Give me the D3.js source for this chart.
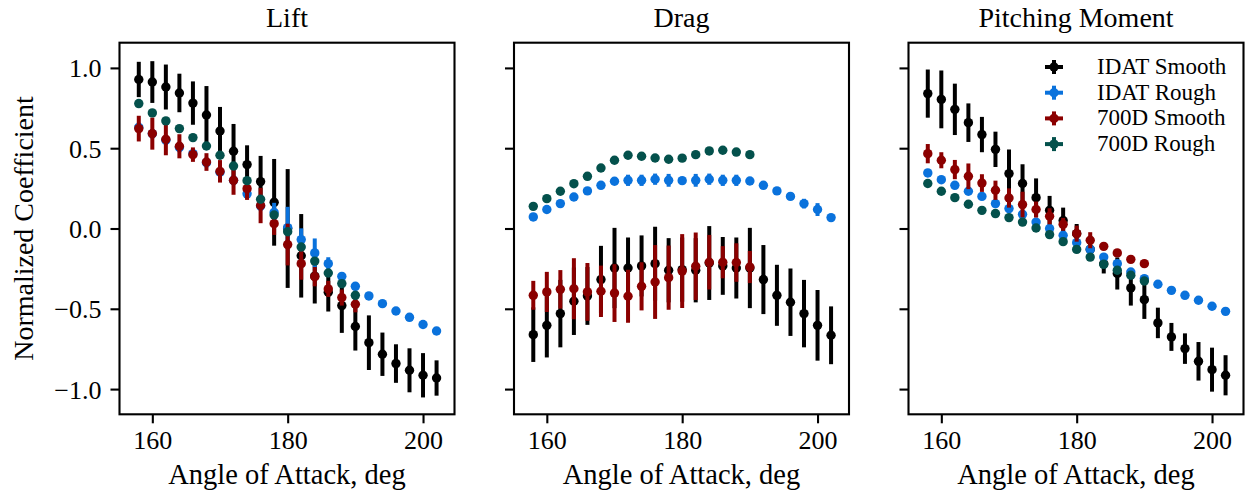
<!DOCTYPE html>
<html><head><meta charset="utf-8">
<script src="https://cdn.jsdelivr.net/npm/d3@7"></script>
<style>
body{margin:0;background:#fff}
text{font-family:"Liberation Serif","Times New Roman",serif;fill:#000}
</style>
</head><body>
<svg id="c" width="1253" height="494"></svg>
<script>
// ---------------- data ----------------
const panelTitles = ["Lift", "Drag", "Pitching Moment"];
const seriesNames = ["IDAT Smooth", "IDAT Rough", "700D Smooth", "700D Rough"];
const seriesColors = ["#000000", "#0a72dc", "#8b0000", "#04514c"];
const xTicks = [160, 180, 200];
const yTicks = [-1.0, -0.5, 0.0, 0.5, 1.0];
const yTickLabels = ["\u22121.0", "\u22120.5", "0.0", "0.5", "1.0"];
const xLabel = "Angle of Attack, deg";
const yLabel = "Normalized Coefficient";

const anglesIDAT = [158,160,162,164,166,168,170,172,174,176,178,180,182,184,186,188,190,192,194,196,198,200,202];
const angles700D = [158,160,162,164,166,168,170,172,174,176,178,180,182,184,186,188,190];

// Lift
const liftIdatSmooth = [0.928,0.912,0.881,0.844,0.781,0.707,0.607,0.481,0.398,0.292,0.163,0.0,-0.17,-0.297,-0.397,-0.48,-0.61,-0.711,-0.783,-0.841,-0.883,-0.914,-0.931];
const liftIdatSmoothErr = [0.11,0.13,0.14,0.12,0.135,0.18,0.15,0.17,0.12,0.16,0.27,0.37,0.26,0.17,0.12,0.17,0.15,0.17,0.135,0.12,0.137,0.138,0.11];
const liftIdatRough = [0.63,0.59,0.55,0.505,0.466,0.41,0.35,0.30,0.216,0.14,0.10,0.005,-0.069,-0.152,-0.219,-0.298,-0.36,-0.42,-0.468,-0.514,-0.553,-0.598,-0.638];
const liftIdatRoughErr = [0.03,0.03,0.03,0.03,0.03,0.03,0.03,0.03,0.03,0.03,0.06,0.13,0.07,0.09,0.04,0.02,0.015,0.015,0.015,0.015,0.015,0.015,0.015];
const lift700dSmooth = [0.622,0.591,0.556,0.512,0.46,0.414,0.356,0.3,0.248,0.143,0.03,-0.1,-0.219,-0.3,-0.376,-0.43,-0.472];
const lift700dSmoothErr = [0.08,0.1,0.1,0.075,0.045,0.055,0.07,0.09,0.07,0.11,0.07,0.13,0.1,0.06,0.05,0.05,0.05];
const lift700dRough = [0.778,0.72,0.67,0.622,0.566,0.514,0.456,0.389,0.298,0.182,0.084,-0.02,-0.115,-0.203,-0.277,-0.343,-0.416];
const lift700dRoughErr = [0.01,0.01,0.01,0.01,0.01,0.01,0.01,0.01,0.01,0.01,0.01,0.01,0.01,0.01,0.01,0.01,0.01];

// Drag
const dragIdatSmooth = [-0.661,-0.603,-0.53,-0.453,-0.42,-0.318,-0.246,-0.246,-0.233,-0.219,-0.26,-0.256,-0.26,-0.215,-0.233,-0.246,-0.246,-0.318,-0.416,-0.459,-0.53,-0.603,-0.665];
const dragIdatSmoothErr = [0.17,0.2,0.21,0.21,0.18,0.21,0.25,0.19,0.19,0.23,0.2,0.2,0.2,0.23,0.18,0.19,0.25,0.215,0.19,0.21,0.21,0.22,0.18];
const dragIdatRough = [0.072,0.118,0.155,0.196,0.234,0.269,0.294,0.3,0.3,0.307,0.3,0.298,0.3,0.307,0.3,0.3,0.296,0.269,0.234,0.2,0.155,0.118,0.068];
const dragIdatRoughErr = [0.015,0.02,0.015,0.015,0.015,0.015,0.02,0.035,0.035,0.035,0.04,0.02,0.04,0.035,0.035,0.035,0.02,0.015,0.015,0.015,0.03,0.04,0.015];
const drag700dSmooth = [-0.416,-0.395,-0.379,-0.375,-0.395,-0.391,-0.402,-0.422,-0.36,-0.333,-0.306,-0.265,-0.235,-0.21,-0.21,-0.212,-0.24];
const drag700dSmoothErr = [0.09,0.125,0.12,0.19,0.18,0.16,0.18,0.165,0.15,0.23,0.2,0.23,0.21,0.17,0.1,0.12,0.1];
const drag700dRough = [0.138,0.186,0.232,0.279,0.325,0.377,0.425,0.456,0.45,0.439,0.431,0.438,0.46,0.483,0.487,0.476,0.46];
const drag700dRoughErr = [0.01,0.01,0.01,0.01,0.01,0.01,0.01,0.01,0.01,0.01,0.01,0.01,0.01,0.01,0.01,0.01,0.01];

// Pitching moment
const pitchIdatSmooth = [0.84,0.804,0.742,0.659,0.585,0.493,0.342,0.28,0.192,0.113,0.05,-0.032,-0.13,-0.22,-0.28,-0.37,-0.443,-0.588,-0.675,-0.748,-0.827,-0.879,-0.914];
const pitchIdatSmoothErr = [0.15,0.18,0.16,0.12,0.11,0.11,0.15,0.12,0.12,0.09,0.08,0.06,0.06,0.06,0.1,0.11,0.12,0.095,0.087,0.095,0.12,0.137,0.125];
const pitchIdatRough = [0.346,0.304,0.269,0.232,0.2,0.155,0.124,0.088,0.04,0.0,-0.042,-0.088,-0.13,-0.178,-0.219,-0.271,-0.312,-0.347,-0.385,-0.416,-0.447,-0.484,-0.516];
const pitchIdatRoughErr = [0.02,0.015,0.015,0.015,0.015,0.015,0.015,0.015,0.015,0.015,0.015,0.015,0.015,0.015,0.015,0.015,0.015,0.015,0.015,0.015,0.015,0.015,0.015];
const pitch700dSmooth = [0.466,0.425,0.367,0.325,0.283,0.238,0.19,0.149,0.118,0.076,0.026,-0.032,-0.073,-0.111,-0.152,-0.192,-0.219];
const pitch700dSmoothErr = [0.06,0.05,0.06,0.08,0.055,0.06,0.06,0.08,0.05,0.05,0.04,0.05,0.05,0.02,0.01,0.01,0.01];
const pitch700dRough = [0.28,0.232,0.192,0.151,0.113,0.093,0.068,0.04,0.003,-0.038,-0.082,-0.13,-0.178,-0.223,-0.26,-0.291,-0.327];
const pitch700dRoughErr = [0.01,0.01,0.01,0.01,0.01,0.01,0.01,0.01,0.01,0.01,0.01,0.01,0.01,0.01,0.01,0.01,0.01];

// ---------------- build ----------------
function mk(xs, ys, es) { return xs.map((x, i) => ({x, y: ys[i], e: es[i]})); }
const panels = [
  [mk(anglesIDAT, liftIdatSmooth, liftIdatSmoothErr), mk(anglesIDAT, liftIdatRough, liftIdatRoughErr),
   mk(angles700D, lift700dSmooth, lift700dSmoothErr), mk(angles700D, lift700dRough, lift700dRoughErr)],
  [mk(anglesIDAT, dragIdatSmooth, dragIdatSmoothErr), mk(anglesIDAT, dragIdatRough, dragIdatRoughErr),
   mk(angles700D, drag700dSmooth, drag700dSmoothErr), mk(angles700D, drag700dRough, drag700dRoughErr)],
  [mk(anglesIDAT, pitchIdatSmooth, pitchIdatSmoothErr), mk(anglesIDAT, pitchIdatRough, pitchIdatRoughErr),
   mk(angles700D, pitch700dSmooth, pitch700dSmoothErr), mk(angles700D, pitch700dRough, pitch700dRoughErr)]
];

const svg = d3.select("#c");
const panelLeft = [119.5, 514, 908.5];
const panelW = 335, plotTop = 42.7, plotBottom = 414.3;
const y = d3.scaleLinear().domain([-1.157, 1.157]).range([plotBottom, plotTop]);
const tickLen = 9, lw = 2.1, barW = 4, rDot = 4.7;
const serif = '"Liberation Serif","Times New Roman",serif';

panels.forEach((series, pi) => {
  const L = panelLeft[pi];
  const x = d3.scaleLinear().domain([155.15, 204.65]).range([L, L + panelW]);
  const g = svg.append("g");

  series.forEach((pts, si) => {
    const col = seriesColors[si];
    const sg = g.append("g");
    sg.selectAll("line").data(pts).join("line")
      .attr("x1", d => x(d.x)).attr("x2", d => x(d.x))
      .attr("y1", d => y(d.y - d.e)).attr("y2", d => y(d.y + d.e))
      .attr("stroke", col).attr("stroke-width", barW);
    sg.selectAll("circle").data(pts).join("circle")
      .attr("cx", d => x(d.x)).attr("cy", d => y(d.y)).attr("r", rDot)
      .attr("fill", col);
  });

  g.append("rect").attr("x", L).attr("y", plotTop).attr("width", panelW).attr("height", plotBottom - plotTop)
    .attr("fill", "none").attr("stroke", "#000").attr("stroke-width", lw);

  const xa = g.append("g").attr("transform", `translate(0,${plotBottom})`)
    .call(d3.axisBottom(x).tickValues(xTicks).tickSize(tickLen).tickPadding(9).tickFormat(d3.format("d")));
  xa.attr("font-family", null);
  xa.select(".domain").remove();
  xa.selectAll(".tick line").attr("stroke-width", lw);
  xa.selectAll(".tick text").attr("font-size", 26).attr("dy", null).attr("y", 35)
    .style("font-family", serif);

  const ya = g.append("g").attr("transform", `translate(${L},0)`)
    .call(d3.axisLeft(y).tickValues(yTicks).tickSize(tickLen).tickPadding(9)
      .tickFormat((d, i) => pi === 0 ? yTickLabels[i] : ""));
  ya.attr("font-family", null);
  ya.select(".domain").remove();
  ya.selectAll(".tick line").attr("stroke-width", lw);
  ya.selectAll(".tick text").attr("font-size", 26).attr("dy", null).attr("y", 9)
    .style("font-family", serif);

  g.append("text").attr("x", L + panelW / 2).attr("y", 27.3).attr("text-anchor", "middle")
    .attr("font-size", 28).text(panelTitles[pi]);
  g.append("text").attr("x", L + panelW / 2).attr("y", 484).attr("text-anchor", "middle")
    .attr("font-size", 28.5).text(xLabel);
});

svg.append("text").attr("transform", `translate(33,${(plotTop + plotBottom) / 2}) rotate(-90)`)
  .attr("text-anchor", "middle").attr("font-size", 28).text(yLabel);

const legRows = [67, 92.7, 118.4, 144.1];
const lg = svg.append("g");
seriesNames.forEach((nm, i) => {
  const cy = legRows[i], cx = 1054;
  lg.append("line").attr("x1", cx - 9).attr("x2", cx + 9).attr("y1", cy).attr("y2", cy)
    .attr("stroke", seriesColors[i]).attr("stroke-width", barW);
  lg.append("line").attr("x1", cx).attr("x2", cx).attr("y1", cy - 7).attr("y2", cy + 7)
    .attr("stroke", seriesColors[i]).attr("stroke-width", barW);
  lg.append("circle").attr("cx", cx).attr("cy", cy).attr("r", rDot).attr("fill", seriesColors[i]);
  lg.append("text").attr("x", 1097).attr("y", cy + 7).attr("font-size", 23).text(nm);
});
</script>
</body></html>
